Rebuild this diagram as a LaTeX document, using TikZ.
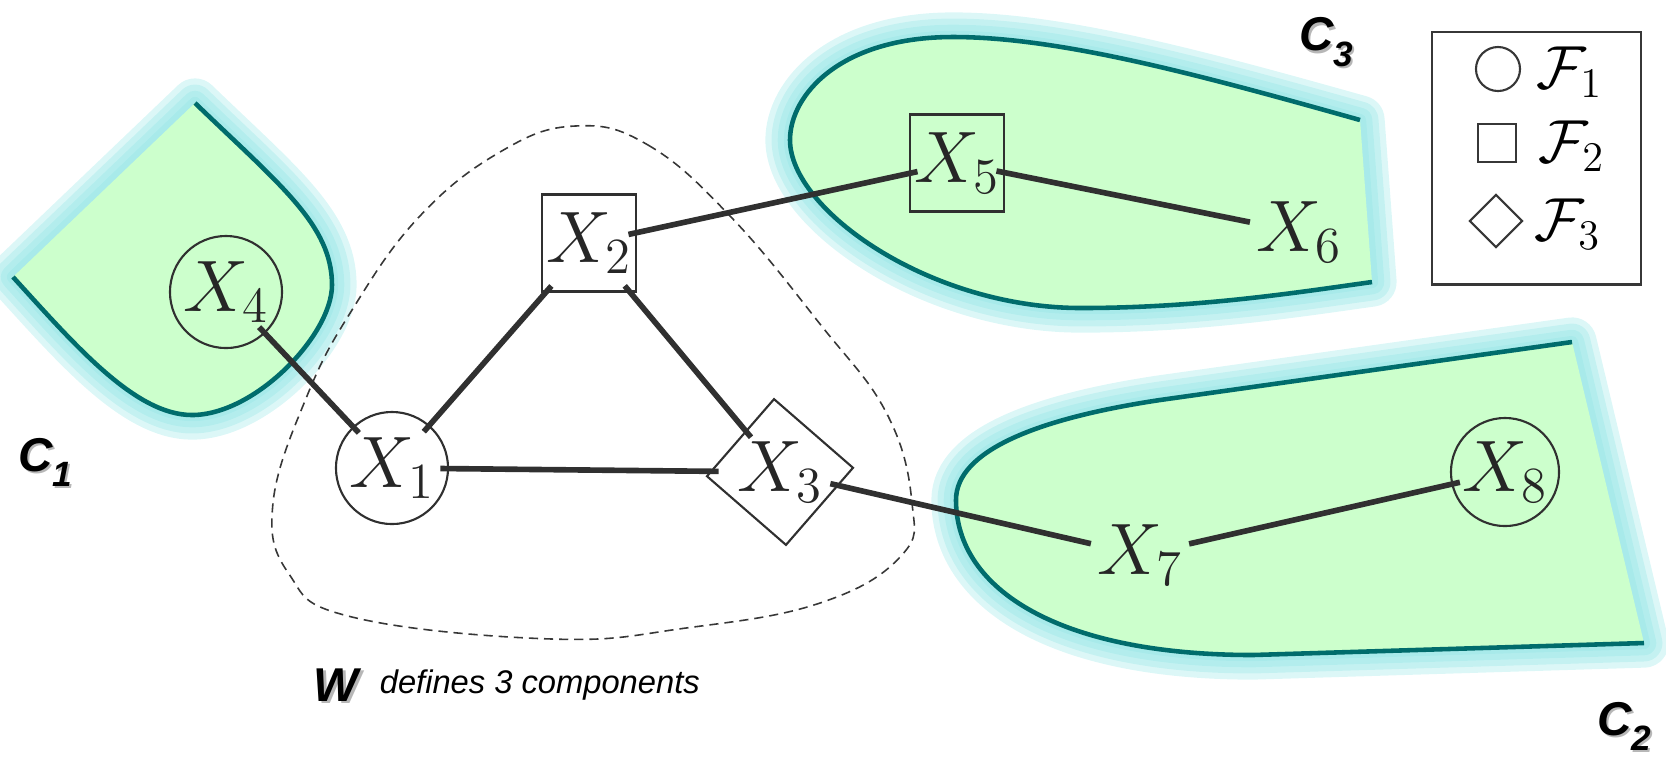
\documentclass[tikz,border=0pt]{standalone}
\usepackage{fontspec}
\newfontfamily\labelfont{Liberation Sans}
\usepackage{tikz}
\usetikzlibrary{positioning}

\definecolor{compfill}{RGB}{204,255,204}
\definecolor{compline}{RGB}{0,108,108}
\definecolor{compglow}{RGB}{140,228,228}
\definecolor{linkgray}{RGB}{48,48,48}
\definecolor{boxgray}{RGB}{55,55,55}

% outlines of the components, in pixel units (open side is closed by -- cycle)
\newcommand{\compone}{(195,103) .. controls (280,185) and (332,225) .. (332,285)
  .. controls (332,335) and (255,415) .. (192,415)
  .. controls (135,415) and (75,345) .. (13,277)}
\newcommand{\comptwo}{(1572,342) -- (1160,400) .. controls (1040,418) and (956,450) .. (956,500)
  .. controls (956,590) and (1060,655) .. (1253,655) -- (1644,643)}
\newcommand{\compthree}{(1360,120) .. controls (1200,75) and (1060,37) .. (953,37)
  .. controls (840,37) and (790,95) .. (790,140)
  .. controls (790,210) and (930,308) .. (1081,308)
  .. controls (1200,308) and (1300,292) .. (1372,282)}

\begin{document}
\begin{tikzpicture}[
    x=0.01cm, y=-0.01cm,
    var/.style={font=\fontsize{20.5}{24}\selectfont, inner sep=0pt, text=black!85},
    fone/.style={var, circle, draw=linkgray, line width=0.6pt, minimum size=1.12cm},
    ftwo/.style={var, rectangle, draw=linkgray, line width=0.6pt, minimum width=0.94cm, minimum height=0.97cm},
    fthree/.style={var, rectangle, draw=linkgray, line width=0.6pt, minimum size=0.95cm, rotate=-41},
    plain/.style={var, inner sep=4pt},
    link/.style={draw=linkgray, line width=1.6pt, shorten <=-2.5pt, shorten >=-2.5pt},
    glow/.style={draw=compglow, opacity=0.3, line join=round},
    rim/.style={draw=compline, line width=1.3pt},
    wline/.style={draw=boxgray, line width=0.45pt, dash pattern=on 2.6pt off 1.7pt},
    clabel/.style={font=\labelfont\bfseries\itshape\fontsize{13.5}{16}\selectfont, inner sep=0pt},
    cshadow/.style={clabel, text=black!40, opacity=0.7},
    note/.style={font=\labelfont\itshape\fontsize{9.3}{11}\selectfont, inner sep=0pt},
    lgshape/.style={draw=boxgray, line width=0.6pt, inner sep=0pt},
    lgtext/.style={font=\fontsize{17}{20}\selectfont, inner sep=0pt, anchor=west}
  ]
    \useasboundingbox (0,0) rectangle (1666,756);

    % components with their glow
    \foreach \comp in {\compone,\comptwo,\compthree}{
      \foreach \w in {14pt,10.5pt,7pt,3.5pt}
        \draw[glow, line width=\w] \comp -- cycle;
      \fill[compfill] \comp -- cycle;
      \draw[rim] \comp;
    }

    % the separator W
    \draw[wline] plot[smooth cycle, tension=0.7] coordinates {(575,126) (648,145) (731,217)
      (820,324) (887,414) (912,503) (901,556) (820,603) (686,628) (552,639) (352,617)
      (289,574) (273,503) (307,396) (352,310) (419,217) (500,152)};

    \node[fone] (X4) at (226,292) {$X_4$};
    \node[fone] (X1) at (392,468) {$X_1$};
    \node[ftwo] (X2) at (589,243) {$X_2$};
    \node[fthree] (X3) at (780,472) {\rotatebox[origin=c]{41}{$X_3$}};
    \node[ftwo] (X5) at (957,163) {$X_5$};
    \node[plain] (X6) at (1299,232) {$X_6$};
    \node[plain] (X7) at (1140,555) {$X_7$};
    \node[fone, minimum size=1.08cm] (X8) at (1505,472) {$X_8$};

    \draw[link] (X4) -- (X1);
    \draw[link] (X1) -- (X2);
    \draw[link] (X2) -- (X3);
    \draw[link] (X1) -- (X3);
    \draw[link] (X2) -- (X5);
    \draw[link] (X5) -- (X6);
    \draw[link] (X3) -- (X7);
    \draw[link] (X7) -- (X8);

    % legend
    \node[draw=boxgray, line width=0.8pt, minimum width=2.09cm, minimum height=2.52cm] (legend) at (1536.5,158) {};
    \node[lgshape, circle, minimum size=0.44cm] (f1) at (1498,69) {};
    \node[lgshape, rectangle, minimum size=0.38cm] (f2) at (1497,143) {};
    \node[lgshape, rectangle, minimum size=0.37cm, rotate=45] (f3) at (1496,221) {};
    \node[lgtext] (f1l) at (1536,72) {$\mathcal{F}_1$};
    \node[lgtext] (f2l) at (1538,146) {$\mathcal{F}_2$};
    \node[lgtext] (f3l) at (1534,224) {$\mathcal{F}_3$};

    % component labels
    \node[cshadow] (c1s) at (47.5,464.5) {C\raisebox{-0.32em}{\fontsize{10}{12}\selectfont 1}};
    \node[clabel] (c1) at (45,462) {C\raisebox{-0.32em}{\fontsize{10}{12}\selectfont 1}};
    \node[cshadow] (c3s) at (1328.5,44.5) {C\raisebox{-0.32em}{\fontsize{10}{12}\selectfont 3}};
    \node[clabel] (c3) at (1326,42) {C\raisebox{-0.32em}{\fontsize{10}{12}\selectfont 3}};
    \node[cshadow] (c2s) at (1626.5,728.5) {C\raisebox{-0.32em}{\fontsize{10}{12}\selectfont 2}};
    \node[clabel] (c2) at (1624,726) {C\raisebox{-0.32em}{\fontsize{10}{12}\selectfont 2}};
    \node[cshadow] (ws) at (338.5,687.5) {W};
    \node[clabel] (w) at (336,685) {W};
    \node[note, right=0.2cm of w] (wtext) {defines 3 components};
\end{tikzpicture}
\end{document}
